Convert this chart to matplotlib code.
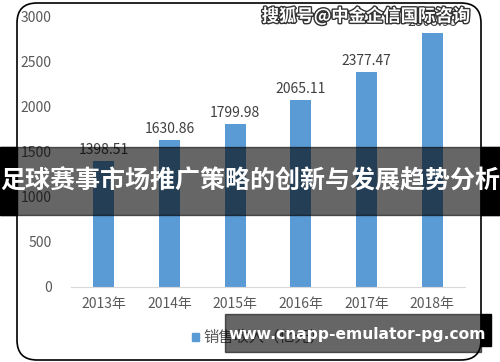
import matplotlib
matplotlib.use("Agg")
import matplotlib.pyplot as plt
from matplotlib.patches import Rectangle, FancyBboxPatch
import matplotlib.patheffects as pe

plt.rcParams['font.family'] = ['Noto Sans CJK SC', 'DejaVu Sans']

years = ["2013年", "2014年", "2015年", "2016年", "2017年", "2018年"]
sales = [1398.51, 1630.86, 1799.98, 2065.11, 2377.47, 2808.95]
legend_label = "销售收入（亿元）"
y_ticks = [0, 500, 1000, 1500, 2000, 2500, 3000]

W, H = 500, 362
fig = plt.figure(figsize=(W / 100, H / 100), dpi=100)
fig.patch.set_facecolor("white")


def fx(px):
    return px / W


def fy(py):
    return 1 - py / H


# ── chart area ──
ax = fig.add_axes([fx(71), fy(287), fx(465) - fx(71), fy(16) - fy(287)])
xs = range(len(years))
ax.bar(xs, sales, width=0.32, color="#5b9bd5", label=legend_label, zorder=2)
for x, v in zip(xs, sales):
    ax.annotate(f"{v:.2f}", (x, v), xytext=(0, 3), textcoords="offset points",
                ha="center", va="bottom", fontsize=10, color="#404040")

ax.set_xlim(-0.5, len(years) - 0.5)
ax.set_ylim(0, 3000)
ax.set_yticks(y_ticks)
ax.set_xticks(list(xs))
ax.set_xticklabels(years)
ax.tick_params(length=0, labelsize=10, labelcolor="#595959", pad=7)
ax.tick_params(axis="y", pad=14)
for s in ["top", "right", "left"]:
    ax.spines[s].set_visible(False)
ax.spines["bottom"].set_color("#d9d9d9")

# legend
fig.add_artist(Rectangle((fx(192), fy(341)), fx(7), fy(333) - fy(341),
                         color="#5b9bd5", transform=fig.transFigure))
fig.text(fx(203), fy(337), legend_label, fontsize=11, color="#595959",
         va="center", ha="left")

# rounded frame
fig.add_artist(FancyBboxPatch((fx(17), fy(360)), fx(481) - fx(17), fy(3) - fy(360),
                              boxstyle="round,pad=0,rounding_size=0.04",
                              fill=False, ec="black", lw=1.2,
                              transform=fig.transFigure, mutation_aspect=W / H))

# ── overlays ──
fig.add_artist(Rectangle((0, fy(215)), 1, fy(147) - fy(215), color="black",
                         alpha=0.6, transform=fig.transFigure, zorder=5))
fig.add_artist(Rectangle((0, fy(215)), fx(17), fy(147) - fy(215), color="black",
                         transform=fig.transFigure, zorder=5))
fig.add_artist(Rectangle((fx(481), fy(215)), 1 - fx(481), fy(147) - fy(215),
                         color="black", transform=fig.transFigure, zorder=5))
fig.text(0.5, fy(181), "足球赛事市场推广策略的创新与发展趋势分析", fontsize=18,
         fontweight="bold", color="white", ha="center", va="center", zorder=6)

fig.add_artist(Rectangle((fx(225), fy(352)), fx(481) - fx(225), fy(314) - fy(352),
                         color="black", alpha=0.6, transform=fig.transFigure, zorder=5))
fig.add_artist(Rectangle((fx(481), fy(346)), fx(491) - fx(481), fy(314) - fy(346),
                         color="black", transform=fig.transFigure, zorder=5))
fig.text(fx(357), fy(334), "www.cnapp-emulator-pg.com", fontsize=11.2,
         fontweight="bold", color="white", ha="center", va="center", zorder=6,
         family="DejaVu Sans")

fig.text(fx(366), fy(16), "搜狐号@中金企信国际咨询", fontsize=12.5,
         fontweight="bold", color="white", ha="center", va="center", zorder=6,
         path_effects=[pe.withStroke(linewidth=2, foreground="#333333")])

fig.savefig("out.png", dpi=100)
